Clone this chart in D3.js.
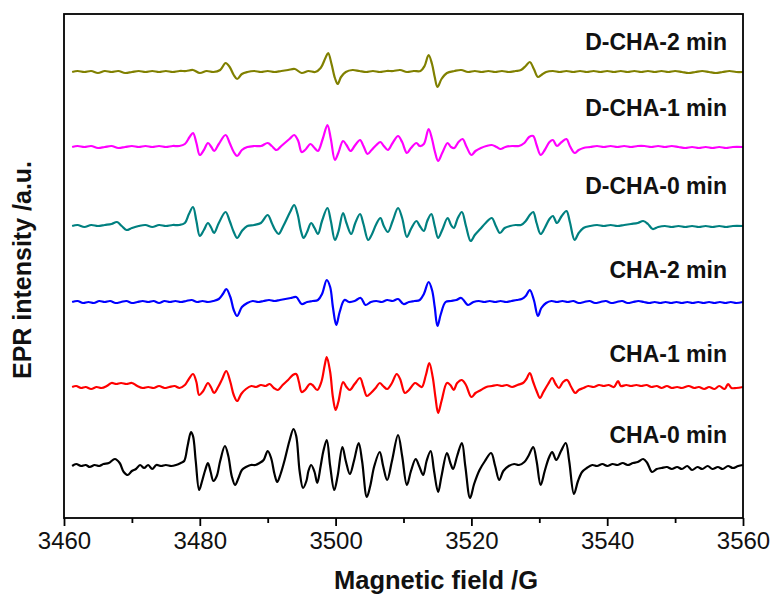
<!DOCTYPE html>
<html>
<head>
<meta charset="utf-8">
<script src="https://cdn.jsdelivr.net/npm/d3@7"></script>
<style>
  html, body { margin: 0; padding: 0; background: #fff; }
  svg { display: block; }
  text { font-family: "Liberation Sans", Arial, sans-serif; }
</style>
</head>
<body>
<svg id="chart" width="776" height="596"></svg>
<script>
// EPR spectra: [magnetic field (G), intensity (a.u.)]
const cha0 = [[3461.2,0],[3461.8,2],[3462.5,0],[3463.2,1],[3463.8,-1],[3464.5,1],[3465.2,0],[3465.8,2],[3466.6,3],[3467.5,7],[3468.2,3],[3468.8,-6],[3469.4,-9],[3470.0,-5],[3470.6,-3],[3471.2,1],[3471.8,-2],[3472.4,1],[3473.0,-3],[3473.6,1],[3474.3,0],[3475.0,1],[3475.8,0],[3476.5,1],[3477.2,3],[3477.7,5],[3478.2,20],[3478.7,34],[3479.0,30],[3479.4,5],[3479.9,-24],[3480.3,-16],[3480.8,-4],[3481.2,3],[3481.6,-6],[3482.0,-15],[3482.5,-10],[3483.0,5],[3483.7,20],[3484.2,10],[3484.7,-10],[3485.2,-19],[3485.7,-12],[3486.2,-4],[3486.8,-1],[3487.5,1],[3488.2,1],[3488.8,3],[3489.4,6],[3490.0,15],[3490.5,8],[3491.0,-8],[3491.4,-16],[3491.9,-8],[3492.5,6],[3493.2,25],[3493.8,37],[3494.2,30],[3494.7,-5],[3495.2,-22],[3495.7,-15],[3496.0,-5],[3496.4,1],[3496.9,-6],[3497.3,-17],[3497.8,0],[3498.2,15],[3498.7,26],[3499.2,0],[3499.8,-24],[3500.3,-10],[3501.0,19],[3501.5,5],[3502.1,-8],[3502.7,5],[3503.4,23],[3503.9,5],[3504.6,-31],[3505.1,-20],[3505.7,0],[3506.5,14],[3507.0,0],[3507.6,-14],[3508.3,5],[3509.2,31],[3509.8,10],[3510.5,-19],[3511.1,-5],[3511.8,7],[3512.3,0],[3512.9,-9],[3513.4,5],[3514.0,15],[3514.5,-5],[3515.1,-26],[3515.6,-10],[3516.4,13],[3516.9,3],[3517.3,-3],[3517.9,10],[3518.6,23],[3519.1,0],[3519.8,-32],[3520.4,-18],[3521.2,-4],[3522.0,5],[3522.9,13],[3523.5,0],[3524.1,-14],[3524.7,-5],[3525.5,0],[3526.3,2],[3527.0,1],[3527.8,4],[3528.4,10],[3529.1,19],[3529.6,5],[3530.2,-19],[3530.8,-5],[3531.4,8],[3531.9,14],[3532.5,6],[3533.2,15],[3533.9,23],[3534.4,5],[3535.1,-28],[3535.7,-15],[3536.3,-6],[3537.0,-2],[3537.8,1],[3538.5,0],[3539.3,2],[3540.0,0],[3540.8,2],[3541.5,1],[3542.3,3],[3543.0,1],[3543.8,3],[3544.5,4],[3545.3,7],[3545.9,3],[3546.6,-6],[3547.3,-3],[3548.0,-2],[3548.8,-1],[3549.5,-3],[3550.3,-1],[3551.0,-3],[3551.8,0],[3552.5,-4],[3553.3,-1],[3554.0,-3],[3554.8,0],[3555.5,-3],[3556.3,-1],[3557.0,-3],[3557.8,0],[3558.5,-2],[3559.3,0],[3560.0,1]];

const cha1 = [[3461.2,0],[3461.8,1],[3462.5,-1],[3463.2,0],[3464.0,-2],[3464.8,0],[3465.5,-1],[3466.3,1],[3467.0,4],[3467.7,3],[3468.4,4],[3469.2,3],[3470.0,4],[3470.8,1],[3471.6,-1],[3472.4,0],[3473.2,-1],[3474.0,1],[3474.8,-1],[3475.5,0],[3476.3,1],[3477.0,-1],[3477.8,2],[3478.3,7],[3479.0,13],[3479.5,5],[3479.9,-8],[3480.5,-4],[3481.2,4],[3481.7,-1],[3482.1,-6],[3482.7,0],[3483.3,8],[3483.9,16],[3484.5,5],[3485.0,-8],[3485.5,-14],[3486.1,-7],[3486.8,-2],[3487.6,1],[3488.3,0],[3489.0,2],[3489.7,1],[3490.3,3],[3490.9,-1],[3491.5,-3],[3492.2,2],[3493.0,7],[3493.7,12],[3494.2,13],[3494.6,5],[3495.0,-5],[3495.5,-3],[3496.2,3],[3496.6,2],[3497.3,-3],[3497.9,5],[3498.4,22],[3498.7,30],[3499.2,15],[3499.6,-10],[3500.0,-23],[3500.4,-15],[3501.1,5],[3501.6,0],[3502.1,-3],[3502.8,3],[3503.6,9],[3504.1,0],[3504.6,-9],[3505.2,-6],[3505.9,-1],[3506.5,4],[3507.0,1],[3507.6,-2],[3508.3,4],[3509.0,13],[3509.5,8],[3510.2,-6],[3510.8,-3],[3511.7,4],[3512.2,2],[3512.7,0],[3513.3,12],[3513.8,24],[3514.3,10],[3514.7,-10],[3515.1,-26],[3515.6,-14],[3516.4,4],[3516.9,2],[3517.4,-3],[3517.9,4],[3518.6,7],[3519.2,2],[3520.0,-10],[3520.6,-6],[3521.4,-3],[3522.2,0],[3523.0,1],[3523.8,2],[3524.5,1],[3525.2,2],[3526.0,0],[3526.8,2],[3527.6,4],[3528.1,8],[3528.6,14],[3529.1,5],[3529.6,-4],[3530.1,-11],[3530.6,-5],[3531.3,3],[3531.9,9],[3532.4,3],[3532.9,-1],[3533.5,5],[3534.1,7],[3534.7,0],[3535.3,-6],[3535.8,-3],[3536.5,-1],[3537.2,1],[3538.0,0],[3538.8,2],[3539.5,1],[3540.2,2],[3541.0,0],[3541.6,6],[3542.0,1],[3542.8,2],[3543.5,1],[3544.3,2],[3545.0,1],[3545.8,2],[3546.5,0],[3547.3,1],[3548.0,-1],[3548.8,1],[3549.5,-1],[3550.3,0],[3551.0,-1],[3552.0,1],[3552.8,-1],[3553.5,0],[3554.3,-2],[3555.0,0],[3555.8,-2],[3556.5,1],[3557.3,-2],[3557.8,3],[3558.3,-1],[3559.0,-1],[3560.0,0]];

const cha2 = [[3461.2,0],[3462.0,1],[3462.8,-1],[3463.6,0],[3464.4,-1],[3465.2,1],[3466.0,0],[3466.8,1],[3467.6,-1],[3468.4,0],[3469.2,1],[3470.0,-1],[3470.8,0],[3471.6,1],[3472.4,0],[3473.2,1],[3474.0,-1],[3474.8,1],[3475.6,0],[3476.4,1],[3477.2,0],[3478.0,1],[3478.8,2],[3479.6,0],[3480.4,1],[3481.2,0],[3482.0,1],[3482.8,3],[3483.4,8],[3483.9,13],[3484.5,5],[3485.0,-8],[3485.5,-14],[3486.2,-5],[3487.0,-1],[3487.8,1],[3488.6,0],[3489.4,1],[3490.2,2],[3491.0,1],[3491.8,2],[3492.6,3],[3493.4,4],[3494.2,5],[3495.0,-2],[3495.8,0],[3496.6,1],[3497.4,2],[3498.0,8],[3498.7,22],[3499.2,15],[3499.6,-5],[3500.1,-23],[3500.6,-10],[3501.3,2],[3502.0,0],[3502.8,1],[3503.7,4],[3504.4,-3],[3505.2,0],[3506.0,1],[3506.8,0],[3507.6,2],[3508.4,1],[3509.2,3],[3510.0,-2],[3510.8,0],[3511.6,1],[3512.4,2],[3513.0,8],[3513.7,20],[3514.2,12],[3514.6,-5],[3515.0,-24],[3515.5,-12],[3516.2,0],[3517.0,1],[3517.8,2],[3518.5,4],[3519.5,-3],[3520.3,0],[3521.1,1],[3521.9,0],[3522.7,1],[3523.5,0],[3524.3,1],[3525.1,0],[3525.9,1],[3526.7,2],[3527.4,3],[3528.0,6],[3528.6,12],[3529.2,2],[3529.8,-14],[3530.3,-6],[3531.0,-1],[3531.8,1],[3532.6,0],[3533.4,1],[3534.2,0],[3535.0,1],[3535.8,-1],[3536.6,0],[3537.4,1],[3538.2,-1],[3539.0,0],[3539.8,1],[3540.6,-1],[3541.4,0],[3542.2,1],[3543.0,-1],[3543.8,0],[3544.6,1],[3545.4,0],[3546.2,-1],[3547.0,0],[3547.8,-1],[3548.6,0],[3549.4,-1],[3550.2,0],[3551.0,-1],[3551.8,0],[3552.6,-1],[3553.4,0],[3554.2,-1],[3555.0,0],[3555.8,-1],[3556.6,0],[3557.4,-1],[3558.2,0],[3559.0,-1],[3560.0,0]];

const dcha0 = [[3461.2,0],[3462,1],[3463,-1],[3464,1],[3465,0],[3466,1],[3467,2],[3467.8,4],[3468.5,0],[3469.2,-4],[3470,-2],[3471,0],[3472,1],[3473,-1],[3474,1],[3475,0],[3476,1],[3477,1],[3477.8,3],[3478.4,12],[3479.0,19],[3479.5,5],[3480.0,-10],[3480.6,-4],[3481.2,3],[3481.7,-2],[3482.1,-7],[3482.8,3],[3483.8,14],[3484.4,5],[3485.0,-6],[3485.5,-12],[3486.2,-5],[3487,0],[3488,1],[3489,3],[3490.0,11],[3490.6,3],[3491.1,-4],[3491.6,-8],[3492.3,0],[3493.3,14],[3493.9,21],[3494.4,12],[3494.9,-5],[3495.3,-12],[3495.8,-6],[3496.4,3],[3496.9,-2],[3497.4,-8],[3498.0,5],[3498.8,18],[3499.3,5],[3499.9,-14],[3500.4,-6],[3501.1,13],[3501.6,3],[3502.3,-8],[3502.9,3],[3503.6,12],[3504.1,2],[3504.8,-14],[3505.3,-9],[3506.0,2],[3506.6,8],[3507.1,0],[3507.7,-6],[3508.4,5],[3509.2,18],[3509.8,8],[3510.5,-11],[3511.1,-3],[3511.9,5],[3512.4,0],[3513.0,-5],[3513.5,5],[3514.1,12],[3514.6,0],[3515.1,-12],[3515.7,-4],[3516.5,8],[3517.0,1],[3517.4,-2],[3518.0,8],[3518.6,14],[3519.2,0],[3519.9,-15],[3520.5,-9],[3521.3,-3],[3522.1,3],[3523.0,8],[3523.6,0],[3524.2,-7],[3524.9,-2],[3525.7,0],[3526.5,1],[3527.3,1],[3528.0,5],[3528.6,11],[3529.1,14],[3529.6,3],[3530.2,-8],[3530.8,-2],[3531.5,7],[3532.0,10],[3532.6,3],[3533.3,10],[3534.0,15],[3534.5,4],[3535.2,-14],[3535.8,-7],[3536.5,-2],[3537.5,0],[3538.5,1],[3539.5,0],[3540.5,1],[3541.5,0],[3542.5,1],[3543.5,2],[3544.5,3],[3545.3,5],[3546.0,2],[3546.7,-3],[3547.5,-1],[3548.5,0],[3549.5,-1],[3550.5,0],[3551.5,-1],[3552.5,0],[3553.5,-1],[3554.5,0],[3555.5,-1],[3556.5,0],[3557.5,-1],[3558.5,0],[3560,0]];

const dcha1 = [[3461.2,0],[3462,1],[3463,0],[3464,1],[3465,-1],[3466,0],[3467,1],[3468,-1],[3469,0],[3470,1],[3471,0],[3472,1],[3473,0],[3474,1],[3475,0],[3476,1],[3477,1],[3477.8,3],[3478.5,10],[3479.0,14],[3479.5,4],[3480.0,-8],[3480.6,-3],[3481.2,4],[3481.7,0],[3482.1,-4],[3482.8,3],[3483.8,12],[3484.4,4],[3485.0,-5],[3485.5,-9],[3486.2,-3],[3487,0],[3488,1],[3489,1],[3490,4],[3490.6,1],[3491.3,-3],[3492,1],[3493.2,8],[3493.9,12],[3494.5,6],[3495.0,-5],[3495.5,-3],[3496.3,3],[3496.9,-1],[3497.4,-4],[3498.1,8],[3498.8,22],[3499.3,8],[3499.9,-13],[3500.4,-6],[3501.1,6],[3501.6,2],[3502.2,-4],[3502.9,2],[3503.6,7],[3504.1,1],[3504.7,-7],[3505.3,-3],[3506.0,2],[3506.6,5],[3507.1,1],[3507.7,-3],[3508.4,4],[3509.2,11],[3509.8,5],[3510.5,-6],[3511.1,-1],[3511.9,4],[3512.4,1],[3513.0,3],[3513.7,18],[3514.2,8],[3514.6,-4],[3515.1,-14],[3515.7,-6],[3516.5,4],[3517.0,0],[3517.5,-1],[3518.1,5],[3518.7,8],[3519.3,0],[3520.0,-8],[3520.6,-4],[3521.4,-1],[3522.2,1],[3523.0,2],[3523.7,0],[3524.3,-2],[3525,0],[3526,1],[3527,1],[3527.8,4],[3528.5,10],[3529.1,11],[3529.6,2],[3530.2,-8],[3530.8,-3],[3531.5,5],[3532.0,7],[3532.6,1],[3533.3,5],[3534.0,8],[3534.5,1],[3535.2,-6],[3535.8,-3],[3536.5,-1],[3537.5,0],[3538.5,1],[3539.5,0],[3540.5,1],[3541.5,0],[3542.5,1],[3543.5,0],[3544.5,1],[3545.5,1],[3546.5,0],[3547.5,1],[3548.5,0],[3549.5,1],[3550.5,0],[3551.5,-1],[3552.5,0],[3553.5,-1],[3554.5,0],[3555.5,-1],[3556.5,0],[3557.5,-1],[3558.5,0],[3560,0]];

const dcha2 = [[3461.2,0],[3462,1],[3463,0],[3464,1],[3465,-1],[3466,1],[3467,0],[3468,1],[3469,-1],[3470,0],[3471,1],[3472,0],[3473,1],[3474,0],[3475,1],[3476,0],[3477,1],[3478,1],[3479,2],[3480,-1],[3481,1],[3482,0],[3483,2],[3483.8,9],[3484.4,5],[3485.0,-3],[3485.5,-7],[3486.2,-2],[3487,0],[3488,1],[3489,0],[3490,1],[3491,0],[3492,1],[3493,2],[3494,3],[3495,-1],[3496,1],[3497,0],[3497.8,4],[3498.5,14],[3498.9,19],[3499.4,8],[3499.9,-6],[3500.3,-12],[3500.8,-5],[3501.5,0],[3502.5,2],[3503.5,1],[3504.5,0],[3505.5,1],[3506.5,0],[3507.5,1],[3508.5,1],[3509.5,2],[3510.5,0],[3511.5,1],[3512.5,1],[3513.1,6],[3513.7,17],[3514.2,8],[3514.6,-5],[3515.0,-15],[3515.6,-7],[3516.4,-1],[3517.5,1],[3518.5,2],[3519.5,0],[3520.5,1],[3521.5,0],[3522.5,1],[3523.5,0],[3524.5,1],[3525.5,0],[3526.5,1],[3527.3,2],[3528.0,6],[3528.6,10],[3529.2,3],[3529.8,-5],[3530.3,-3],[3531,0],[3532,1],[3533,0],[3534,1],[3535,0],[3536,1],[3537,0],[3538,1],[3539,0],[3540,1],[3541,0],[3542,1],[3543,0],[3544,1],[3545,0],[3546,1],[3547,0],[3548,1],[3549,0],[3550,1],[3551,0],[3552,-1],[3553,0],[3554,1],[3555,0],[3556,-1],[3557,0],[3558,1],[3559,0],[3560,0]];

// Series, bottom to top, with vertical stacking offsets (a.u.) and label lift (a.u.)
const seriesNames = ["CHA-0 min", "CHA-1 min", "CHA-2 min", "D-CHA-0 min", "D-CHA-1 min", "D-CHA-2 min"];
const seriesData = [cha0, cha1, cha2, dcha0, dcha1, dcha2];
const seriesOffsets = [52, 131, 216, 292, 371, 446];
const labelLift = [23, 25, 24, 32, 31, 22];
const seriesColors = ["#000000", "#ff0000", "#0000ff", "#008080", "#ff00ff", "#808000"];

const fieldTicks = [3460, 3480, 3500, 3520, 3540, 3560];
const fieldMinorTicks = [3470, 3490, 3510, 3530, 3550];

const margin = { left: 64, top: 14, right: 33, bottom: 78 };
const svg = d3.select("#chart");
const W = +svg.attr("width"), H = +svg.attr("height");
const iw = W - margin.left - margin.right;
const ih = H - margin.top - margin.bottom;

const x = d3.scaleLinear().domain([3460, 3560]).range([0, iw]);
const y = d3.scaleLinear().domain([0, 504]).range([ih, 0]);

const g = svg.append("g").attr("transform", `translate(${margin.left},${margin.top})`);

// spectra
seriesData.forEach((data, i) => {
  const line = d3.line()
    .x(d => x(d[0]))
    .y(d => y(seriesOffsets[i] + d[1]))
    .curve(d3.curveCatmullRom.alpha(0.5));
  g.append("path")
    .datum(data)
    .attr("fill", "none")
    .attr("stroke", seriesColors[i])
    .attr("stroke-width", 2.2)
    .attr("stroke-linejoin", "round")
    .attr("d", line);
  g.append("text")
    .attr("x", iw - 16)
    .attr("y", y(seriesOffsets[i] + labelLift[i]))
    .attr("text-anchor", "end")
    .attr("font-weight", "bold")
    .attr("font-size", 23)
    .attr("fill", "#111")
    .text(seriesNames[i]);
});

// frame
g.append("rect")
  .attr("x", 0).attr("y", 0).attr("width", iw).attr("height", ih)
  .attr("fill", "none").attr("stroke", "#000").attr("stroke-width", 1.8);

// bottom axis
const xAxis = d3.axisBottom(x).tickValues(fieldTicks).tickSize(8).tickPadding(6).tickFormat(d3.format("d"));
const ax = g.append("g").attr("transform", `translate(0,${ih})`).call(xAxis);
ax.select(".domain").remove();
ax.selectAll(".tick line").attr("stroke-width", 1.8);
ax.selectAll(".tick text").attr("font-size", 24).attr("fill", "#111").style("font-family", "'Liberation Sans', Arial, sans-serif");

const xMinor = d3.axisBottom(x).tickValues(fieldMinorTicks).tickSize(5).tickFormat("");
const axm = g.append("g").attr("transform", `translate(0,${ih})`).call(xMinor);
axm.select(".domain").remove();
axm.selectAll(".tick line").attr("stroke-width", 1.8);

// axis titles
svg.append("text")
  .attr("x", 436)
  .attr("y", 589)
  .attr("text-anchor", "middle")
  .attr("font-weight", "bold")
  .attr("font-size", 25.5)
  .attr("fill", "#111")
  .text("Magnetic field /G");

svg.append("text")
  .attr("transform", `translate(31,${margin.top + ih / 2 + 4}) rotate(-90)`)
  .attr("text-anchor", "middle")
  .attr("font-weight", "bold")
  .attr("font-size", 25)
  .attr("fill", "#111")
  .text("EPR intensity /a.u.");
</script>
</body>
</html>
